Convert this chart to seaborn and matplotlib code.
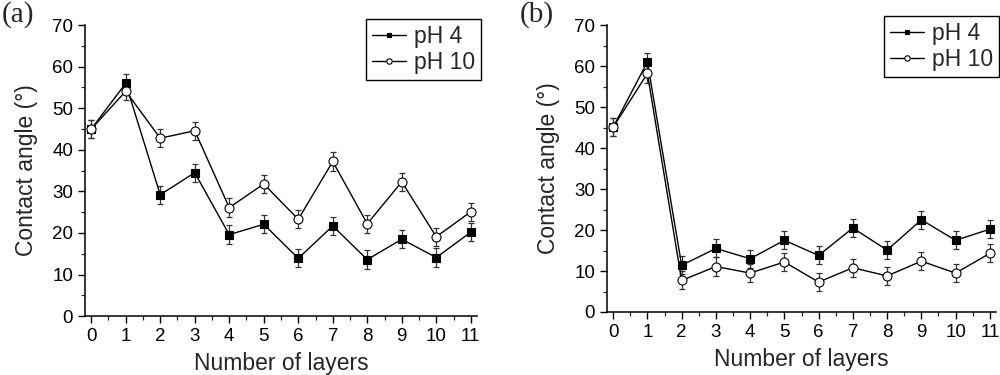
import matplotlib
matplotlib.use("Agg")
import matplotlib.pyplot as plt
from matplotlib.ticker import MultipleLocator
import seaborn as sns
import pandas as pd
import numpy as np

layers = list(range(12))

a_ph4 = [45.0, 56.0, 29.2, 34.5, 19.6, 22.1, 13.9, 21.7, 13.6, 18.5, 14.1, 20.2]
a_ph10 = [45.0, 54.1, 42.8, 44.6, 26.1, 31.8, 23.3, 37.2, 22.2, 32.3, 19.1, 25.1]
b_ph4 = [45.1, 61.0, 11.4, 15.5, 13.0, 17.5, 13.8, 20.5, 15.1, 22.5, 17.5, 20.2]
b_ph10 = [45.1, 58.2, 7.7, 11.1, 9.5, 12.2, 7.3, 10.8, 8.8, 12.4, 9.5, 14.3]
err = [2.2] * 12

panel_labels = ["(a)", "(b)"]
series_labels = ["pH 4", "pH 10"]
xlabel = "Number of layers"
ylabel = "Contact angle (°)"

sns.set_theme(style="ticks")
plt.rcParams["font.family"] = ["Liberation Sans", "DejaVu Sans"]

fig = plt.figure(figsize=(10, 3.75), dpi=100)
ax_a = fig.add_axes([0.085, 0.157, 0.392, 0.776])
ax_b = fig.add_axes([0.607, 0.168, 0.389, 0.765])

panels = [(ax_a, a_ph4, a_ph10), (ax_b, b_ph4, b_ph10)]
legend_anchor = [(0.481, 0.949), (0.999, 0.957)]
panel_pos = [(0.002, 0.998), (0.52, 0.998)]

for i, (ax, s4, s10) in enumerate(panels):
    df4 = pd.DataFrame({"layers": layers, "angle": s4})
    df10 = pd.DataFrame({"layers": layers, "angle": s10})
    # error bars
    ax.errorbar(layers, s4, yerr=err, fmt="none", ecolor="#333333",
                elinewidth=0.9, capsize=2.5, capthick=0.9, zorder=2)
    ax.errorbar(layers, s10, yerr=err, fmt="none", ecolor="#333333",
                elinewidth=0.9, capsize=2.5, capthick=0.9, zorder=2)
    sns.lineplot(data=df4, x="layers", y="angle", ax=ax, color="black",
                 linewidth=1.0, marker="s", markersize=6,
                 markerfacecolor="black", markeredgecolor="black",
                 markeredgewidth=0.8, label=series_labels[0], zorder=3)
    sns.lineplot(data=df10, x="layers", y="angle", ax=ax, color="black",
                 linewidth=1.0, marker="o", markersize=6.5,
                 markerfacecolor="white", markeredgecolor="black",
                 markeredgewidth=0.8, label=series_labels[1], zorder=4)

    ax.set_xlim(-0.18, 11.18)
    ax.set_ylim(0, 70)
    ax.xaxis.set_major_locator(MultipleLocator(1))
    ax.xaxis.set_minor_locator(MultipleLocator(0.5))
    ax.yaxis.set_major_locator(MultipleLocator(10))
    ax.yaxis.set_minor_locator(MultipleLocator(5))
    ax.tick_params(which="major", direction="out", length=5, width=1,
                   labelsize=13.5, colors="black", pad=3.5)
    ax.tick_params(which="minor", direction="out", length=3, width=0.9)
    for side in ["top", "right"]:
        ax.spines[side].set_visible(False)
    for side in ["left", "bottom"]:
        ax.spines[side].set_linewidth(1.1)
        ax.spines[side].set_color("black")
    ax.set_xlabel(xlabel, fontsize=16.5, labelpad=5)
    ax.set_ylabel(ylabel, fontsize=16.5, labelpad=10)

    leg = ax.legend(loc="upper right", bbox_to_anchor=legend_anchor[i],
                    bbox_transform=fig.transFigure, fontsize=16.5,
                    frameon=True, fancybox=False, edgecolor="black",
                    framealpha=1, handlelength=1.5, handletextpad=0.35,
                    borderpad=0.25, labelspacing=0.15, markerscale=0.6,
                    borderaxespad=0)
    leg.get_frame().set_linewidth(1.0)

    fig.text(panel_pos[i][0], panel_pos[i][1], panel_labels[i],
             fontsize=21, family="Liberation Serif", ha="left", va="top")

fig.savefig("out.png", dpi=100)
